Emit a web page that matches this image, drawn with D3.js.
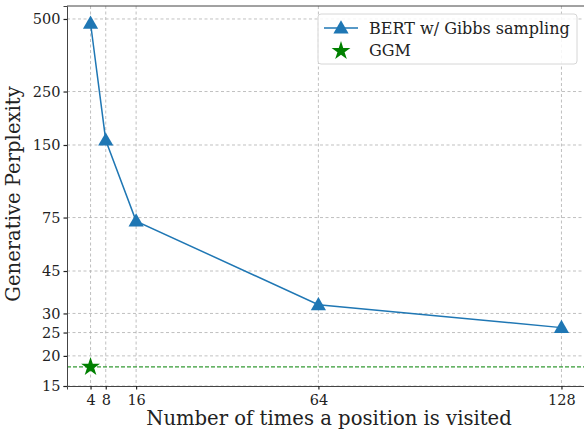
<!DOCTYPE html>
<html>
<head>
<meta charset="utf-8">
<script src="https://cdn.jsdelivr.net/npm/d3@7"></script>
<style>
  body { margin: 0; background: #fff; }
  svg text { font-family: "DejaVu Serif", "Liberation Serif", serif !important; }
</style>
</head>
<body>
<div id="chart"></div>
<script>
// data
var visits = [4, 8, 16, 64, 128];
var bertPpl = [480, 157, 72.5, 32.6, 26.2];
var ggmVisits = [4];
var ggmPpl = [18.0];
var xTicks = [4, 8, 16, 64, 128];
var yTicks = [15, 20, 25, 30, 45, 75, 150, 250, 500];

var W = 584, H = 430;
var margin = {top: 6, right: -1, bottom: 44, left: 67};
var width = W - margin.left - margin.right,
    height = H - margin.top - margin.bottom;

var svg = d3.select("#chart").append("svg")
    .attr("width", W).attr("height", H);

var g = svg.append("g")
    .attr("transform", "translate(" + margin.left + "," + margin.top + ")");

var x = d3.scaleLinear().domain([-2.2, 134.2]).range([0, width]);
var y = d3.scaleLog().domain([15, 566]).range([height, 0]);

// grid
g.append("g").selectAll("line.gx")
  .data(xTicks).enter().append("line")
    .attr("x1", d => x(d)).attr("x2", d => x(d))
    .attr("y1", 0).attr("y2", height)
    .attr("stroke", "#b0b0b0").attr("stroke-width", 0.8)
    .attr("stroke-dasharray", "3,2.5");
g.append("g").selectAll("line.gy")
  .data(yTicks).enter().append("line")
    .attr("x1", 0).attr("x2", width)
    .attr("y1", d => y(d)).attr("y2", d => y(d))
    .attr("stroke", "#b0b0b0").attr("stroke-width", 0.8)
    .attr("stroke-dasharray", "3,2.5");

// GGM reference line
g.append("line")
    .attr("x1", 0).attr("x2", width)
    .attr("y1", y(ggmPpl[0])).attr("y2", y(ggmPpl[0]))
    .attr("stroke", "green").attr("stroke-width", 1)
    .attr("stroke-dasharray", "4,2");

// axes
var xAxis = g.append("g")
    .attr("transform", "translate(0," + height + ")")
    .call(d3.axisBottom(x).tickValues(xTicks).tickSize(3.5).tickPadding(3).tickFormat(d3.format("d")));
var yAxis = g.append("g")
    .call(d3.axisLeft(y).tickValues(yTicks).tickSize(3.5).tickPadding(3).tickFormat(d3.format("d")));

[xAxis, yAxis].forEach(function(a){
  a.attr("font-family", null);
  a.select(".domain").attr("stroke", "#444").attr("stroke-width", 1);
  a.selectAll(".tick line").attr("stroke", "#222").attr("stroke-width", 1.2);
  a.selectAll(".tick text").attr("fill", "#222")
    .style("font-size", "14.5px");
});
xAxis.selectAll(".tick text").attr("dy", "0.85em");

// top spine
g.append("line").attr("x1", 0).attr("x2", width).attr("y1", 0).attr("y2", 0)
  .attr("stroke", "#444").attr("stroke-width", 1);

// BERT line
var line = d3.line().x((d, i) => x(visits[i])).y(d => y(d));
g.append("path").datum(bertPpl)
    .attr("d", line)
    .attr("fill", "none").attr("stroke", "#1f77b4").attr("stroke-width", 1.5);

var tri = d3.symbol().type(d3.symbolTriangle).size(100);
g.selectAll("path.tri").data(bertPpl).enter().append("path")
    .attr("class", "tri")
    .attr("d", tri)
    .attr("transform", (d, i) => "translate(" + x(visits[i]) + "," + (y(d) + 1) + ")")
    .attr("fill", "#1f77b4");

var star = d3.symbol().type(d3.symbolStar).size(110);
g.selectAll("path.star").data(ggmPpl).enter().append("path")
    .attr("class", "star")
    .attr("d", star)
    .attr("transform", (d, i) => "translate(" + x(ggmVisits[i]) + "," + y(d) + ")")
    .attr("fill", "green");

// axis labels
svg.append("text")
    .attr("x", 329).attr("y", 425)
    .attr("text-anchor", "middle")
    .style("font-size", "19.6px").attr("fill", "#222")
    .text("Number of times a position is visited");
svg.append("text")
    .attr("transform", "translate(20,194) rotate(-90)")
    .attr("text-anchor", "middle")
    .style("font-size", "19.6px").attr("fill", "#222")
    .text("Generative Perplexity");

// legend
var lg = svg.append("g").attr("transform", "translate(318,14)");
lg.append("rect")
    .attr("width", 259).attr("height", 50).attr("rx", 3)
    .attr("fill", "white").attr("fill-opacity", 0.85)
    .attr("stroke", "#d6d6d6").attr("stroke-width", 1);
lg.append("line").attr("x1", 6).attr("x2", 40).attr("y1", 14).attr("y2", 14)
    .attr("stroke", "#1f77b4").attr("stroke-width", 1.5);
lg.append("path").attr("d", tri).attr("transform", "translate(23,15)").attr("fill", "#1f77b4");
lg.append("path").attr("d", star).attr("transform", "translate(23,37)").attr("fill", "green");
lg.append("text").attr("x", 51).attr("y", 20).style("font-size", "16px").attr("fill", "#222")
    .text("BERT w/ Gibbs sampling");
lg.append("text").attr("x", 51).attr("y", 42).style("font-size", "16px").attr("fill", "#222")
    .text("GGM");
</script>
</body>
</html>
